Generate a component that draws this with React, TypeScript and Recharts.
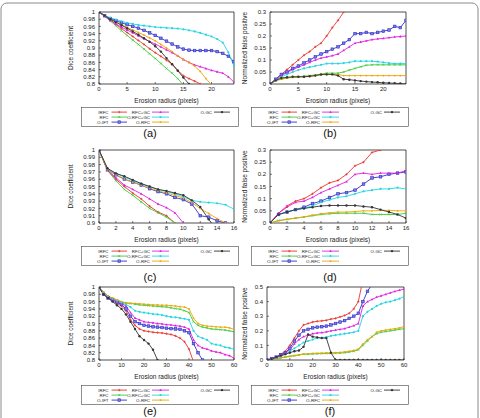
import React from 'react';
import { LineChart, Line, XAxis, YAxis, ReferenceArea } from 'recharts';

// Methods compared in every panel
const SERIES = [
  { key: 'IRFC', color: '#e8332a', marker: 'plus' },
  { key: 'RFC', color: '#3ec93a', marker: 'cross' },
  { key: 'O-IFT', color: '#3030c8', marker: 'square' },
  { key: 'RFC+GC', color: '#e020e0', marker: 'tri' },
  { key: 'O-RFC+GC', color: '#22d6e0', marker: 'star' },
  { key: 'O-RFC', color: '#f0a400', marker: 'dot' },
  { key: 'O-GC', color: '#333333', marker: 'circle' },
];

const LEGEND_COLUMNS = [
  ['IRFC', 'RFC', 'O-IFT'],
  ['RFC+GC', 'O-RFC+GC', 'O-RFC'],
  ['O-GC'],
];

const X_TITLE = 'Erosion radius (pixels)';
const DICE_TITLE = 'Dice coefficient';
const FP_TITLE = 'Normalized false positive';

// ---- (a) Dice coefficient, radius 0..24
const xsA = [0, 1, 2, 3, 4, 5, 6, 7, 8, 9, 10, 11, 12, 13, 14, 15, 16, 17, 18, 19, 20, 21, 22, 23, 24];
const ticksXA = [0, 5, 10, 15, 20];
const ticksYA = [0.8, 0.82, 0.84, 0.86, 0.88, 0.9, 0.92, 0.94, 0.96, 0.98, 1];
const irfcA = [1, 0.99, 0.978, 0.966, 0.954, 0.943, 0.932, 0.921, 0.91, 0.898, 0.887, 0.877, 0.866, 0.855, 0.838, 0.823, 0.815, 0.808, 0.8, 0.79];
const rfcA = [1, 0.988, 0.975, 0.962, 0.948, 0.935, 0.922, 0.91, 0.897, 0.884, 0.871, 0.857, 0.843, 0.83, 0.815, 0.797, 0.78];
const oiftA = [1, 0.99, 0.982, 0.976, 0.97, 0.965, 0.96, 0.955, 0.949, 0.942, 0.935, 0.927, 0.919, 0.911, 0.903, 0.897, 0.894, 0.893, 0.893, 0.893, 0.893, 0.89, 0.885, 0.877, 0.862];
const rfcgcA = [1, 0.988, 0.977, 0.967, 0.958, 0.95, 0.942, 0.934, 0.926, 0.918, 0.911, 0.903, 0.895, 0.887, 0.878, 0.868, 0.86, 0.853, 0.848, 0.843, 0.838, 0.834, 0.83, 0.82, 0.805];
const orfcgcA = [1, 0.99, 0.984, 0.979, 0.974, 0.97, 0.967, 0.964, 0.962, 0.96, 0.958, 0.957, 0.956, 0.955, 0.954, 0.952, 0.949, 0.946, 0.942, 0.937, 0.932, 0.925, 0.915, 0.888, 0.849];
const orfcA = [1, 0.99, 0.98, 0.972, 0.965, 0.957, 0.95, 0.943, 0.936, 0.928, 0.92, 0.91, 0.9, 0.89, 0.878, 0.868, 0.86, 0.85, 0.835, 0.815, 0.798];
const ogcA = [1, 0.99, 0.98, 0.972, 0.963, 0.955, 0.946, 0.937, 0.927, 0.917, 0.905, 0.89, 0.872, 0.855, 0.837, 0.818, 0.8, 0.78];

// ---- (b) false positive, radius 0..24
const ticksYFP = [0, 0.05, 0.1, 0.15, 0.2, 0.25, 0.3];
const irfcB = [0, 0.02, 0.04, 0.06, 0.08, 0.1, 0.12, 0.135, 0.155, 0.17, 0.2, 0.235, 0.265, 0.3, 0.33];
const rfcB = [0, 0.015, 0.02, 0.025, 0.028, 0.03, 0.032, 0.035, 0.038, 0.04, 0.045, 0.045, 0.045, 0.05, 0.058, 0.065, 0.072, 0.078, 0.08, 0.08, 0.08, 0.08, 0.08, 0.08, 0.08];
const oiftB = [0, 0.02, 0.04, 0.05, 0.065, 0.075, 0.088, 0.1, 0.113, 0.125, 0.135, 0.145, 0.155, 0.17, 0.185, 0.21, 0.21, 0.215, 0.21, 0.215, 0.22, 0.225, 0.24, 0.235, 0.265];
const rfcgcB = [0, 0.018, 0.035, 0.048, 0.06, 0.07, 0.08, 0.09, 0.1, 0.108, 0.113, 0.118, 0.125, 0.14, 0.155, 0.17, 0.175, 0.18, 0.185, 0.188, 0.19, 0.193, 0.196, 0.198, 0.2];
const orfcgcB = [0, 0.015, 0.03, 0.04, 0.05, 0.058, 0.065, 0.07, 0.075, 0.08, 0.085, 0.085, 0.085, 0.087, 0.09, 0.095, 0.095, 0.095, 0.095, 0.093, 0.09, 0.087, 0.085, 0.085, 0.085];
const orfcB = [0, 0.015, 0.02, 0.025, 0.028, 0.03, 0.03, 0.032, 0.035, 0.038, 0.04, 0.04, 0.04, 0.035, 0.035, 0.035, 0.035, 0.035, 0.035, 0.035, 0.035, 0.035, 0.035, 0.035, 0.035];
const ogcB = [0, 0.015, 0.025, 0.028, 0.03, 0.03, 0.03, 0.032, 0.035, 0.04, 0.04, 0.04, 0.035, 0.02, 0.018, 0.015, 0.012, 0.01, 0.008, 0.007, 0.005, 0.004, 0.003, 0.002, 0];

// ---- (c) Dice coefficient, radius 0..16
const xsC = [0, 1, 2, 3, 4, 5, 6, 7, 8, 9, 10, 11, 12, 13, 14, 15, 16];
const ticksXC = [0, 2, 4, 6, 8, 10, 12, 14, 16];
const ticksYC = [0.9, 0.91, 0.92, 0.93, 0.94, 0.95, 0.96, 0.97, 0.98, 0.99, 1];
const irfcC = [1, 0.973, 0.96, 0.95, 0.941, 0.933, 0.923, 0.915, 0.91, 0.9, 0.89];
const rfcC = [1, 0.972, 0.958, 0.946, 0.938, 0.929, 0.92, 0.914, 0.908, 0.9, 0.89];
const oiftC = [1, 0.973, 0.966, 0.96, 0.956, 0.952, 0.947, 0.943, 0.94, 0.935, 0.932, 0.926, 0.91, 0.908, 0.903, 0.9, 0.895];
const rfcgcC = [1, 0.972, 0.962, 0.952, 0.946, 0.94, 0.933, 0.926, 0.921, 0.914, 0.9, 0.89];
const orfcgcC = [1, 0.974, 0.968, 0.963, 0.958, 0.954, 0.95, 0.946, 0.943, 0.94, 0.936, 0.931, 0.929, 0.928, 0.927, 0.925, 0.919];
const orfcC = [1, 0.973, 0.966, 0.96, 0.956, 0.952, 0.948, 0.944, 0.941, 0.938, 0.934, 0.928, 0.92, 0.913, 0.906, 0.9, 0.893];
const ogcC = [1, 0.975, 0.968, 0.964, 0.959, 0.954, 0.95, 0.946, 0.944, 0.941, 0.938, 0.931, 0.922, 0.905, 0.89];

// ---- (d) false positive, radius 0..16
const irfcD = [0, 0.04, 0.07, 0.09, 0.1, 0.12, 0.145, 0.165, 0.175, 0.2, 0.235, 0.25, 0.29, 0.3, 0.32];
const rfcD = [0, 0.01, 0.015, 0.02, 0.025, 0.03, 0.035, 0.038, 0.04, 0.04, 0.04, 0.04, 0.035, 0.035, 0.035, 0.035, 0.04];
const oiftD = [0, 0.035, 0.045, 0.055, 0.065, 0.08, 0.09, 0.105, 0.12, 0.125, 0.135, 0.16, 0.185, 0.19, 0.2, 0.205, 0.21];
const rfcgcD = [0, 0.04, 0.065, 0.085, 0.09, 0.105, 0.125, 0.14, 0.155, 0.17, 0.2, 0.205, 0.2, 0.205, 0.205, 0.205, 0.215];
const orfcgcD = [0, 0.035, 0.045, 0.055, 0.06, 0.07, 0.085, 0.095, 0.105, 0.11, 0.12, 0.13, 0.135, 0.14, 0.14, 0.145, 0.14];
const orfcD = [0, 0.01, 0.015, 0.02, 0.025, 0.032, 0.038, 0.042, 0.045, 0.045, 0.047, 0.05, 0.05, 0.052, 0.052, 0.05, 0.05];
const ogcD = [0, 0.035, 0.045, 0.055, 0.06, 0.065, 0.07, 0.072, 0.072, 0.072, 0.072, 0.068, 0.065, 0.055, 0.045, 0.035, 0.02];

// ---- (e) Dice coefficient, radius 0..60 (every 2 px)
const xsE = [0, 2, 4, 6, 8, 10, 12, 14, 16, 18, 20, 22, 24, 26, 28, 30, 32, 34, 36, 38, 40, 42, 44, 46, 48, 50, 52, 54, 56, 58, 60];
const ticksXE = [0, 10, 20, 30, 40, 50, 60];
const irfcE = [1, 0.98, 0.97, 0.962, 0.955, 0.948, 0.935, 0.91, 0.895, 0.885, 0.88, 0.878, 0.876, 0.875, 0.874, 0.872, 0.87, 0.866, 0.86, 0.85, 0.83, 0.795, 0.78];
const rfcE = [1, 0.985, 0.975, 0.968, 0.963, 0.958, 0.956, 0.955, 0.953, 0.951, 0.95, 0.949, 0.948, 0.947, 0.946, 0.945, 0.943, 0.941, 0.939, 0.935, 0.93, 0.905, 0.895, 0.89, 0.888, 0.885, 0.884, 0.883, 0.882, 0.88, 0.877];
const oiftE = [1, 0.98, 0.97, 0.965, 0.958, 0.952, 0.94, 0.92, 0.905, 0.9, 0.895, 0.893, 0.891, 0.89, 0.889, 0.887, 0.886, 0.885, 0.884, 0.88, 0.875, 0.845, 0.82, 0.8, 0.78];
const rfcgcE = [1, 0.985, 0.975, 0.968, 0.96, 0.955, 0.948, 0.93, 0.915, 0.91, 0.905, 0.903, 0.902, 0.9, 0.899, 0.897, 0.896, 0.894, 0.893, 0.89, 0.885, 0.855, 0.84, 0.833, 0.83, 0.825, 0.822, 0.82, 0.815, 0.812, 0.805];
const orfcgcE = [1, 0.985, 0.975, 0.968, 0.962, 0.957, 0.952, 0.945, 0.935, 0.932, 0.93, 0.928, 0.926, 0.925, 0.923, 0.92, 0.918, 0.917, 0.915, 0.913, 0.91, 0.88, 0.865, 0.86, 0.855, 0.845, 0.842, 0.84, 0.835, 0.833, 0.83];
const orfcE = [1, 0.985, 0.975, 0.97, 0.965, 0.96, 0.957, 0.955, 0.955, 0.954, 0.953, 0.952, 0.951, 0.951, 0.95, 0.95, 0.949, 0.948, 0.946, 0.945, 0.94, 0.915, 0.9, 0.895, 0.893, 0.892, 0.891, 0.89, 0.89, 0.888, 0.884];
const ogcE = [1, 0.98, 0.97, 0.96, 0.95, 0.94, 0.925, 0.905, 0.885, 0.865, 0.855, 0.845, 0.828, 0.8, 0.78];

// ---- (f) false positive, radius 0..60 (every 2 px)
const ticksYF = [0, 0.1, 0.2, 0.3, 0.4, 0.5];
const irfcF = [0, 0.01, 0.02, 0.04, 0.06, 0.1, 0.15, 0.2, 0.24, 0.25, 0.26, 0.265, 0.268, 0.272, 0.28, 0.285, 0.295, 0.305, 0.32, 0.35, 0.4, 0.55];
const rfcF = [0, 0.005, 0.01, 0.015, 0.02, 0.025, 0.03, 0.035, 0.04, 0.04, 0.042, 0.043, 0.044, 0.045, 0.046, 0.047, 0.048, 0.05, 0.055, 0.06, 0.07, 0.1, 0.13, 0.16, 0.18, 0.19, 0.195, 0.2, 0.205, 0.21, 0.215];
const oiftF = [0, 0.01, 0.02, 0.035, 0.05, 0.08, 0.13, 0.17, 0.2, 0.21, 0.22, 0.225, 0.228, 0.232, 0.24, 0.25, 0.26, 0.27, 0.285, 0.3, 0.32, 0.4, 0.47, 0.52];
const rfcgcF = [0, 0.01, 0.02, 0.035, 0.05, 0.07, 0.11, 0.14, 0.16, 0.17, 0.18, 0.185, 0.188, 0.192, 0.2, 0.205, 0.21, 0.215, 0.225, 0.235, 0.25, 0.37, 0.4, 0.415, 0.43, 0.44, 0.45, 0.46, 0.47, 0.478, 0.485];
const orfcgcF = [0, 0.005, 0.015, 0.025, 0.04, 0.06, 0.08, 0.1, 0.12, 0.13, 0.14, 0.15, 0.153, 0.157, 0.165, 0.17, 0.175, 0.18, 0.185, 0.19, 0.2, 0.3, 0.33, 0.35, 0.37, 0.385, 0.395, 0.4, 0.41, 0.42, 0.435];
const orfcF = [0, 0.005, 0.01, 0.015, 0.02, 0.025, 0.03, 0.035, 0.04, 0.042, 0.045, 0.046, 0.047, 0.048, 0.049, 0.05, 0.052, 0.055, 0.06, 0.065, 0.075, 0.11, 0.14, 0.16, 0.19, 0.2, 0.205, 0.21, 0.215, 0.22, 0.23];
const ogcF = [0, 0.005, 0.02, 0.03, 0.04, 0.05, 0.06, 0.065, 0.09, 0.175, 0.16, 0.155, 0.15, 0.15, 0.05, 0, 0, 0, 0, 0, 0, 0, 0, 0, 0, 0, 0, 0, 0, 0, 0];

const FONT = '"Liberation Sans", Arial, sans-serif';
const INK = '#222';

type Cols = Record<string, (number | null)[]>;

function Marker({ kind, color, x, y }: { kind: string; color: string; x: number; y: number }) {
  switch (kind) {
    case 'plus':
      return (
        <g stroke={color} strokeWidth={0.7}>
          <line x1={x - 1.2} y1={y} x2={x + 1.2} y2={y} />
          <line x1={x} y1={y - 1.2} x2={x} y2={y + 1.2} />
        </g>
      );
    case 'cross':
      return (
        <g stroke={color} strokeWidth={0.7}>
          <line x1={x - 1} y1={y - 1} x2={x + 1} y2={y + 1} />
          <line x1={x - 1} y1={y + 1} x2={x + 1} y2={y - 1} />
        </g>
      );
    case 'square':
      return <rect x={x - 1.3} y={y - 1.3} width={2.6} height={2.6} fill="#7a7ae6" stroke={color} strokeWidth={0.6} />;
    case 'tri':
      return <path d={`M${x},${y - 1.4}L${x + 1.3},${y + 0.9}L${x - 1.3},${y + 0.9}Z`} fill={color} />;
    case 'star':
      return <circle cx={x} cy={y} r={1.1} fill={color} />;
    case 'dot':
      return <circle cx={x} cy={y} r={0.9} fill={color} />;
    default:
      return <circle cx={x} cy={y} r={1.2} fill={color} />;
  }
}

const makeDot = (kind: string, color: string) => (props: any) => {
  const { cx, cy, index } = props;
  if (cx == null || cy == null || Number.isNaN(cx) || Number.isNaN(cy)) return <g key={`e-${index}`} />;
  return (
    <g key={`m-${index}`}>
      <Marker kind={kind} color={color} x={cx} y={cy} />
    </g>
  );
};

const fmt = (v: number) => String(parseFloat(v.toFixed(3)));

type PanelProps = {
  xs: number[];
  cols: Cols;
  xDomain: [number, number];
  xTicks: number[];
  yDomain: [number, number];
  yTicks: number[];
  yTitle: string;
  yTitleOffset: number;
  cellLeft: number;
  cellRight: number;
  plotLeft: number;
  plotRight: number;
  plotTop: number;
  plotBottom: number;
};

function Panel(p: PanelProps) {
  const padTop = 8;
  const xAxisH = 22;
  const width = p.cellRight - p.cellLeft;
  const height = padTop + (p.plotBottom - p.plotTop) + xAxisH;
  const rows = p.xs.map((x, i) => {
    const r: Record<string, number | null> = { x };
    SERIES.forEach((s) => {
      const v = p.cols[s.key][i];
      r[s.key] = v === undefined ? null : v;
    });
    return r;
  });
  const tickStyle = { fontSize: 6, fill: INK, fontFamily: FONT };
  return (
    <div style={{ position: 'absolute', left: p.cellLeft, top: p.plotTop - padTop }}>
      <LineChart
        width={width}
        height={height}
        data={rows}
        margin={{ top: padTop, right: p.cellRight - p.plotRight, left: 0, bottom: 0 }}
      >
        <XAxis
          dataKey="x"
          type="number"
          domain={p.xDomain}
          ticks={p.xTicks}
          interval={0}
          allowDataOverflow
          height={xAxisH}
          axisLine={false}
          tickLine={{ stroke: INK, strokeWidth: 0.6 }}
          tickSize={-2}
          tickMargin={5}
          tick={tickStyle}
          label={{ value: X_TITLE, position: 'insideBottom', offset: 3, style: { fontSize: 6.5, fill: INK, fontFamily: FONT } }}
        />
        <YAxis
          type="number"
          domain={p.yDomain}
          ticks={p.yTicks}
          interval={0}
          allowDataOverflow
          width={p.plotLeft - p.cellLeft}
          axisLine={false}
          tickLine={{ stroke: INK, strokeWidth: 0.6 }}
          tickSize={-2}
          tickMargin={6}
          tick={tickStyle}
          tickFormatter={fmt}
          label={{
            value: p.yTitle,
            angle: -90,
            position: 'insideLeft',
            offset: p.yTitleOffset,
            style: { fontSize: 6.5, fill: INK, fontFamily: FONT, textAnchor: 'middle' },
          }}
        />
        <ReferenceArea
          x1={p.xDomain[0]}
          x2={p.xDomain[1]}
          y1={p.yDomain[0]}
          y2={p.yDomain[1]}
          fill="none"
          stroke={INK}
          strokeWidth={0.8}
          ifOverflow="visible"
        />
        {SERIES.map((s) => (
          <Line
            key={s.key}
            type="linear"
            dataKey={s.key}
            stroke={s.color}
            strokeWidth={0.9}
            dot={makeDot(s.marker, s.color)}
            activeDot={false}
            isAnimationActive={false}
            connectNulls={false}
          />
        ))}
      </LineChart>
    </div>
  );
}

function LegendBox({ left, top }: { left: number; top: number }) {
  const w = 157;
  const h = 19;
  const colText = [27.5, 69, 131];
  const colLine = [
    [30.5, 46],
    [71, 88],
    [133, 149],
  ];
  const rowY = [4.6, 9.6, 14.6];
  return (
    <svg style={{ position: 'absolute', left, top }} width={w + 1} height={h + 1}>
      <rect x={0.5} y={0.5} width={w} height={h} fill="#fff" stroke="#444" strokeWidth={0.6} />
      {LEGEND_COLUMNS.map((col, ci) =>
        col.map((name, ri) => {
          const s = SERIES.find((q) => q.key === name)!;
          const y = rowY[ri] + 0.5;
          const [l1, l2] = colLine[ci];
          return (
            <g key={name}>
              <text x={colText[ci]} y={y + 1.6} fontSize={4.4} fill={INK} fontFamily={FONT} textAnchor="end">
                {name}
              </text>
              <line x1={l1} y1={y} x2={l2} y2={y} stroke={s.color} strokeWidth={0.9} />
              <Marker kind={s.marker} color={s.color} x={(l1 + l2) / 2} y={y} />
            </g>
          );
        })
      )}
    </svg>
  );
}

function Caption({ text, cx, cy }: { text: string; cx: number; cy: number }) {
  return (
    <div
      style={{
        position: 'absolute',
        left: cx - 20,
        top: cy - 7,
        width: 40,
        textAlign: 'center',
        fontFamily: FONT,
        fontSize: 11,
        lineHeight: '14px',
        color: '#111',
      }}
    >
      {text}
    </div>
  );
}

const colsOf = (a: any[]) => {
  const c: Cols = {};
  SERIES.forEach((s, i) => (c[s.key] = a[i]));
  return c;
};

export default function App() {
  const L = { cellLeft: 61, cellRight: 239, plotLeft: 99, plotRight: 234, yTitleOffset: 10 };
  const R = { cellLeft: 240, cellRight: 418, plotLeft: 270, plotRight: 406, yTitleOffset: 5 };
  return (
    <div style={{ position: 'absolute', left: 0, top: 0, width: 480, height: 418, background: '#fff', overflow: 'hidden' }}>
      <svg style={{ position: 'absolute', left: 0, top: 0 }} width={480} height={418}>
        <rect x={1} y={3} width={477} height={430} rx={6} fill="none" stroke="#8a8a8a" strokeWidth={1} />
      </svg>

      <Panel
        {...L}
        xs={xsA}
        cols={colsOf([irfcA, rfcA, oiftA, rfcgcA, orfcgcA, orfcA, ogcA])}
        xDomain={[0, 24]}
        xTicks={ticksXA}
        yDomain={[0.8, 1]}
        yTicks={ticksYA}
        yTitle={DICE_TITLE}
        plotTop={12}
        plotBottom={84}
      />
      <Panel
        {...R}
        xs={xsA}
        cols={colsOf([irfcB, rfcB, oiftB, rfcgcB, orfcgcB, orfcB, ogcB])}
        xDomain={[0, 24]}
        xTicks={ticksXA}
        yDomain={[0, 0.3]}
        yTicks={ticksYFP}
        yTitle={FP_TITLE}
        plotTop={12}
        plotBottom={84}
      />
      <Panel
        {...L}
        xs={xsC}
        cols={colsOf([irfcC, rfcC, oiftC, rfcgcC, orfcgcC, orfcC, ogcC])}
        xDomain={[0, 16]}
        xTicks={ticksXC}
        yDomain={[0.9, 1]}
        yTicks={ticksYC}
        yTitle={DICE_TITLE}
        plotTop={150}
        plotBottom={223}
      />
      <Panel
        {...R}
        xs={xsC}
        cols={colsOf([irfcD, rfcD, oiftD, rfcgcD, orfcgcD, orfcD, ogcD])}
        xDomain={[0, 16]}
        xTicks={ticksXC}
        yDomain={[0, 0.3]}
        yTicks={ticksYFP}
        yTitle={FP_TITLE}
        plotTop={150}
        plotBottom={223}
      />
      <Panel
        {...L}
        xs={xsE}
        cols={colsOf([irfcE, rfcE, oiftE, rfcgcE, orfcgcE, orfcE, ogcE])}
        xDomain={[0, 60]}
        xTicks={ticksXE}
        yDomain={[0.8, 1]}
        yTicks={ticksYA}
        yTitle={DICE_TITLE}
        plotTop={287}
        plotBottom={360}
      />
      <Panel
        {...R}
        plotLeft={267}
        plotRight={404}
        xs={xsE}
        cols={colsOf([irfcF, rfcF, oiftF, rfcgcF, orfcgcF, orfcF, ogcF])}
        xDomain={[0, 60]}
        xTicks={ticksXE}
        yDomain={[0, 0.5]}
        yTicks={ticksYF}
        yTitle={FP_TITLE}
        plotTop={287}
        plotBottom={360}
      />

      <LegendBox left={81} top={107} />
      <LegendBox left={251} top={107} />
      <LegendBox left={81} top={246} />
      <LegendBox left={251} top={246} />
      <LegendBox left={81} top={385} />
      <LegendBox left={251} top={385} />

      <Caption text="(a)" cx={150} cy={133} />
      <Caption text="(b)" cx={330} cy={133} />
      <Caption text="(c)" cx={150} cy={277} />
      <Caption text="(d)" cx={330} cy={277} />
      <Caption text="(e)" cx={150} cy={411} />
      <Caption text="(f)" cx={330} cy={411} />
    </div>
  );
}
